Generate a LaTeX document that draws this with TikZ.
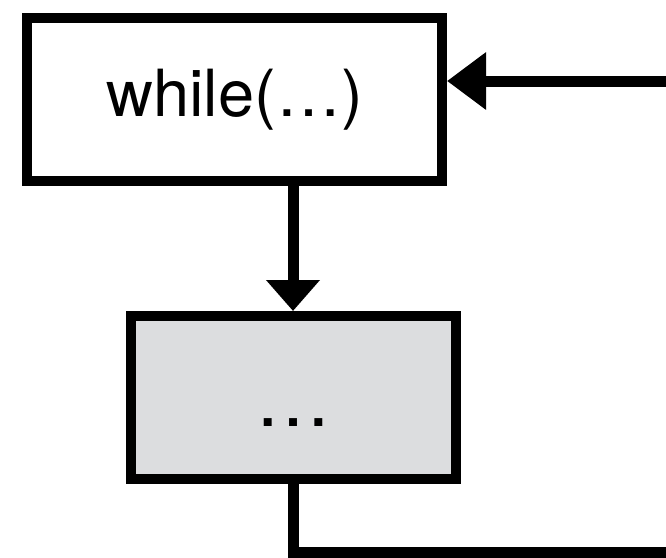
\documentclass[tikz,border=0pt]{standalone}
\usepackage{fontspec}
\setmainfont{TeX Gyre Heros}
\usetikzlibrary{arrows.meta}
\tikzset{
  blockbox/.style={draw=black, line width=10pt, inner sep=0pt, font=\fontsize{65}{70}\selectfont},
  conn/.style={line width=11pt, draw=black},
  tridown/.style={-{Triangle[length=31pt, width=52pt]}},
  trileft/.style={-{Triangle[length=39pt, width=55pt]}}
}
\begin{document}
\begin{tikzpicture}[x=1pt, y=-1pt]
\useasboundingbox[fill=white] (0,0) rectangle (666,557);
\node[blockbox, fill=white, minimum width=415pt, minimum height=163pt] (wh) at (234.5,99.5) {while(…)};
\node[blockbox, fill={rgb,255:red,220;green,221;blue,223}, minimum width=325pt, minimum height=163pt,
      font=\fontsize{76}{80}\selectfont, text height=57pt, text depth=0pt] (body) at (293.5,397.5) {…};
\coordinate (bot) at (293,552);
\coordinate (rightbot) at (700,552);
\coordinate (rightin) at (700,81);
\draw[conn, tridown] (wh.south -| bot) -- (body.north -| bot);
\draw[conn] (body.south -| bot) -- (bot) -- (rightbot);
\draw[conn, trileft] (rightin) -- (rightin -| wh.east);
\end{tikzpicture}
\end{document}
